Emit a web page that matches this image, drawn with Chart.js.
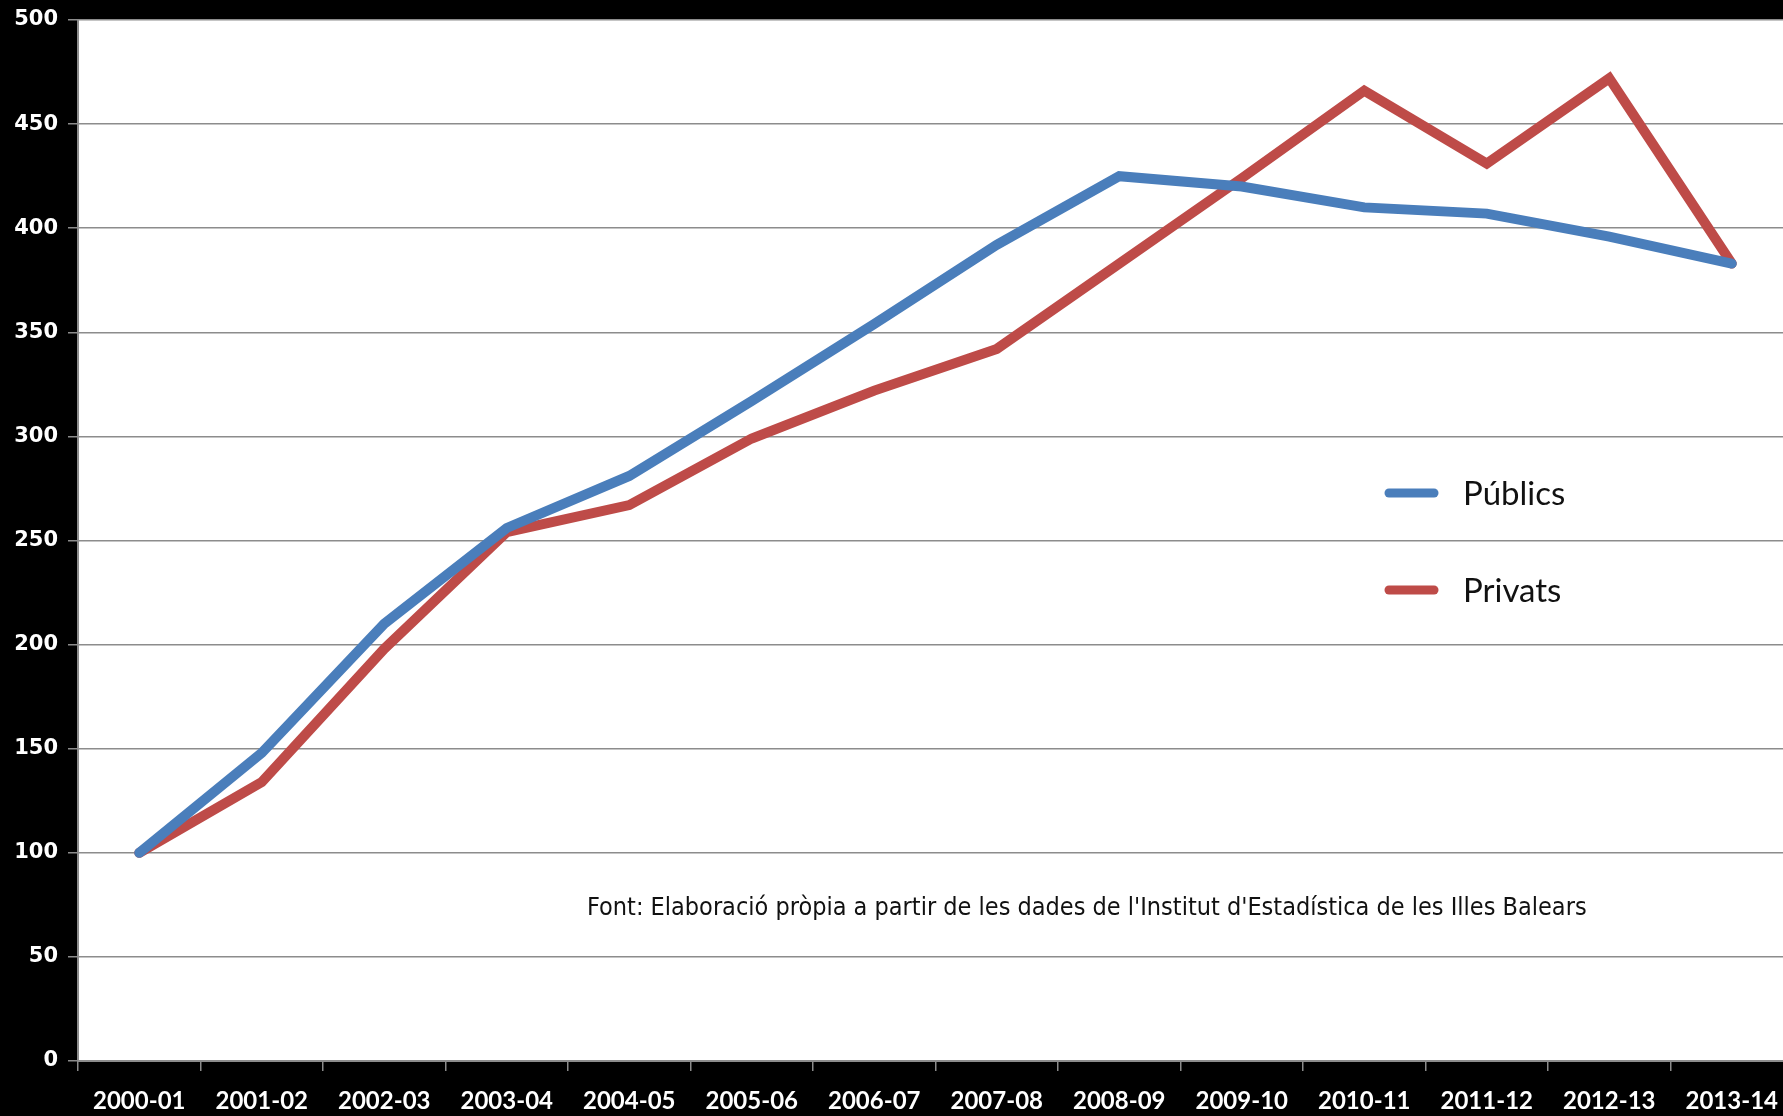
<!DOCTYPE html>
<html>
<head>
<meta charset="utf-8">
<script src="https://cdn.jsdelivr.net/npm/chart.js@4/dist/chart.umd.min.js"></script>
<style>
  html, body { margin: 0; padding: 0; background: #000; overflow: hidden; }
  #wrap { width: 1800px; height: 1116px; position: relative; }
</style>
</head>
<body>
<div id="wrap"><canvas id="lineChart"></canvas></div>
<script>
var cursos = ['2000-01', '2001-02', '2002-03', '2003-04', '2004-05', '2005-06', '2006-07',
              '2007-08', '2008-09', '2009-10', '2010-11', '2011-12', '2012-13', '2013-14']
var publics = [100, 148, 210, 256, 281, 317, 354, 392, 425, 420, 410, 407, 396, 383]
var privats = [100, 134, 198, 254, 267, 299, 322, 342, 383, 424, 466, 431, 472, 383]
var yTicks  = [0, 50, 100, 150, 200, 250, 300, 350, 400, 450, 500]
var nota = "Font: Elaboració pròpia a partir de les dades de l'Institut d'Estadística de les Illes Balears"

var blau    = '#4a7ebb'
var vermell = '#be4b48'
var gris    = '#8c8c8c'

// white plot area + legend inside the plot + source note
var plotExtras = {
  id: 'plotExtras',
  beforeDraw: function (chart) {
    var ctx = chart.ctx, a = chart.chartArea
    ctx.save()
    ctx.fillStyle = '#ffffff'
    ctx.fillRect(a.left, a.top, a.right - a.left, a.bottom - a.top)
    ctx.restore()
  },
  afterDatasetsDraw: function (chart) {
    var ctx = chart.ctx, a = chart.chartArea
    ctx.save()
    // legend
    var rows = [473, 570]
    chart.data.datasets.forEach(function (ds, i) {
      var y = a.top + rows[i]
      ctx.strokeStyle = ds.borderColor
      ctx.lineWidth = 9
      ctx.lineCap = 'round'
      ctx.beginPath()
      ctx.moveTo(a.left + 1311, y)
      ctx.lineTo(a.left + 1356, y)
      ctx.stroke()
      ctx.fillStyle = '#111'
      ctx.font = '33px Lato, "Open Sans", sans-serif'
      ctx.textBaseline = 'middle'
      ctx.textAlign = 'left'
      ctx.fillText(ds.label, a.left + 1385, y + 1)
    })
    // source note
    ctx.fillStyle = '#111'
    ctx.font = '25px "Liberation Sans Narrow", "DejaVu Sans Condensed", sans-serif'
    ctx.textBaseline = 'middle'
    ctx.fillText(nota, a.left + 509, a.top + 888)
    ctx.restore()
  }
}

var lineChart = new Chart(document.getElementById('lineChart').getContext('2d'), {
  type: 'line',
  data: {
    labels: cursos,
    datasets: [
      {
        label: 'Públics',
        data: publics,
        borderColor: blau,
        backgroundColor: blau,
        borderWidth: 10,
        pointRadius: 0,
        borderCapStyle: 'round',
        borderJoinStyle: 'miter',
        tension: 0
      },
      {
        label: 'Privats',
        data: privats,
        borderColor: vermell,
        backgroundColor: vermell,
        borderWidth: 10,
        pointRadius: 0,
        borderCapStyle: 'round',
        borderJoinStyle: 'miter',
        tension: 0
      }
    ]
  },
  options: {
    responsive: true,
    maintainAspectRatio: false,
    animation: false,
    layout: { padding: { top: 20, right: 7, left: 0, bottom: 0 } },
    plugins: {
      legend: { display: false },
      tooltip: { enabled: false }
    },
    scales: {
      x: {
        offset: true,
        grid: {
          offset: true,
          drawOnChartArea: false,
          drawTicks: true,
          tickLength: 10,
          color: gris,
          lineWidth: 1.5
        },
        border: { color: gris, width: 2 },
        ticks: {
          color: '#ffffff',
          padding: 16,
          maxRotation: 0,
          autoSkip: false,
          font: { family: 'Lato, sans-serif', size: 24, weight: 'bold' }
        },
        afterFit: function (scale) { scale.height = 55 }
      },
      y: {
        min: 0,
        max: 500,
        afterBuildTicks: function (scale) {
          scale.ticks = yTicks.map(function (v) { return { value: v } })
        },
        grid: {
          color: gris,
          lineWidth: 1.5,
          tickLength: 10
        },
        border: { color: gris, width: 2 },
        ticks: {
          color: '#ffffff',
          padding: 10,
          font: { family: '"DejaVu Sans", Verdana, sans-serif', size: 21, weight: 'bold', lineHeight: 0.8 }
        },
        afterFit: function (scale) { scale.width = 78 }
      }
    }
  },
  plugins: [plotExtras]
})
</script>
</body>
</html>
